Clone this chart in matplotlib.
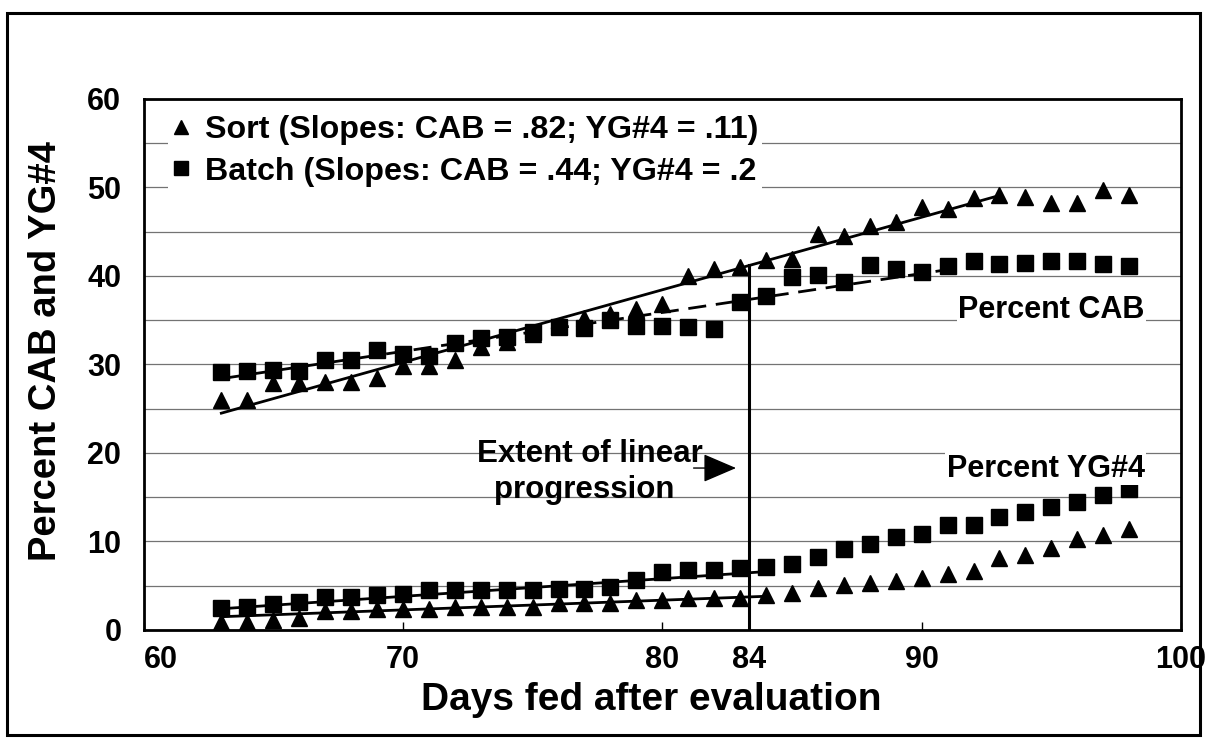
import matplotlib
matplotlib.use("Agg")
import matplotlib.pyplot as plt
from matplotlib.patches import Rectangle
import numpy as np

plt.rcParams["font.family"] = ["Liberation Sans", "DejaVu Sans"]
plt.rcParams["font.weight"] = "bold"

# Days fed after evaluation
days = [63, 64, 65, 66, 67, 68, 69, 70, 71, 72, 73, 74, 75, 76, 77, 78, 79, 80,
        81, 82, 83, 84, 85, 86, 87, 88, 89, 90, 91, 92, 93, 94, 95, 96, 97, 98]

# Percent CAB
sort_cab = [26.0, 26.0, 27.9, 27.9, 28.0, 28.0, 28.5, 29.8, 29.8, 30.5, 32.0, 32.5,
            33.5, 34.3, 35.3, 35.7, 36.3, 36.8, 40.0, 40.8, 41.0, 41.8, 41.9, 44.7,
            44.5, 45.7, 46.1, 47.8, 47.6, 48.8, 49.1, 48.9, 48.3, 48.3, 49.7, 49.2]
batch_cab = [29.1, 29.3, 29.4, 29.3, 30.5, 30.5, 31.6, 31.2, 31.0, 32.4, 33.0, 33.1,
             33.7, 34.2, 34.1, 35.0, 34.3, 34.3, 34.2, 34.0, 37.1, 37.7, 39.9, 40.1,
             39.3, 41.2, 40.8, 40.4, 41.1, 41.7, 41.3, 41.5, 41.7, 41.7, 41.4, 41.1]

# Percent YG#4
sort_yg = [0.9, 0.9, 1.1, 1.4, 2.2, 2.2, 2.4, 2.4, 2.4, 2.6, 2.6, 2.6,
           2.6, 3.0, 3.0, 3.0, 3.4, 3.4, 3.6, 3.6, 3.6, 4.0, 4.2, 4.8,
           5.1, 5.3, 5.5, 5.9, 6.3, 6.7, 8.1, 8.5, 9.3, 10.3, 10.7, 11.4]
batch_yg = [2.45, 2.6, 2.9, 3.2, 3.7, 3.7, 3.95, 4.05, 4.5, 4.5, 4.5, 4.5,
            4.5, 4.6, 4.6, 4.9, 5.6, 6.6, 6.8, 6.8, 7.0, 7.1, 7.45, 8.2,
            9.2, 9.7, 10.5, 10.9, 11.85, 11.85, 12.8, 13.35, 13.9, 14.5, 15.2, 15.9]

# Fitted lines: (start day, end day, value at start, slope)
fit_sort_cab = (63, 93, 24.5, 0.82)
fit_batch_cab = (63, 91, 28.4, 0.44)
fit_sort_yg = (63, 84, 1.5, 0.11)
fit_batch_yg = (63, 84, 2.4, 0.20)

linear_extent = 83.35  # where the vertical marker line sits
x_ticks = [60, 70, 80, linear_extent, 90, 100]
x_tick_labels = ["60", "70", "80", "84", "90", "100"]
y_ticks = [0, 10, 20, 30, 40, 50, 60]


def fit_line(fit):
    x0, x1, y0, slope = fit
    xs = np.array([x0, x1])
    return xs, y0 + slope * (xs - x0)


fig = plt.figure(figsize=(12.08, 7.41), dpi=100)
ax = fig.add_axes([0.1188, 0.1498, 0.8589, 0.7166])

# outer frame around the whole chart
fig.patches.append(Rectangle((7 / 1208, 1 - 735 / 741), 1193 / 1208, 722 / 741,
                             transform=fig.transFigure, fill=False,
                             edgecolor="black", linewidth=2.2))

ax.set_xlim(60, 100)
ax.set_ylim(0, 60)
ax.set_yticks(y_ticks)
ax.set_yticks(np.arange(5, 60, 10), minor=True)
ax.set_xticks(x_ticks)
ax.set_xticklabels(x_tick_labels)
ax.get_xticklabels()[0].set_horizontalalignment("left")

ax.grid(axis="y", which="both", color="0.45", linewidth=0.9, zorder=0)
ax.set_axisbelow(True)

ax.tick_params(axis="x", direction="in", length=6, width=1, pad=11, labelsize=22)
ax.tick_params(axis="y", which="both", direction="in", length=0, pad=16, labelsize=22)
for label in ax.get_xticklabels() + ax.get_yticklabels():
    label.set_fontweight("bold")
for spine in ax.spines.values():
    spine.set_linewidth(2.0)

ms = 12
ax.plot(days, sort_cab, linestyle="none", marker="^", color="black", markersize=ms,
        label="Sort (Slopes: CAB = .82; YG#4 = .11)", zorder=3)
ax.plot(days, batch_cab, linestyle="none", marker="s", color="black", markersize=ms * 0.95,
        label="Batch (Slopes: CAB = .44; YG#4 = .2", zorder=3)
ax.plot(days, sort_yg, linestyle="none", marker="^", color="black", markersize=ms, zorder=3)
ax.plot(days, batch_yg, linestyle="none", marker="s", color="black", markersize=ms * 0.95,
        zorder=3)

xs, ys = fit_line(fit_sort_cab)
ax.plot(xs, ys, color="black", linewidth=2.0, zorder=4)
xs, ys = fit_line(fit_batch_cab)
ax.plot(xs, ys, color="black", linewidth=2.0, linestyle=(0, (6.5, 3.5)), zorder=4)
xs, ys = fit_line(fit_sort_yg)
ax.plot(xs, ys, color="black", linewidth=2.0, zorder=4)
xs, ys = fit_line(fit_batch_yg)
ax.plot(xs, ys, color="black", linewidth=2.0, zorder=4)

# vertical line marking the extent of linear progression
x0, _, y0, slope = fit_sort_cab
ax.plot([linear_extent, linear_extent], [0, y0 + slope * (linear_extent - x0)],
        color="black", linewidth=2.2, zorder=4)

ax.annotate("", xy=(82.95, 18.3), xytext=(81.1, 18.3),
            arrowprops=dict(arrowstyle="-|>,head_length=2.1,head_width=0.9",
                            color="black", linewidth=1.0), zorder=5)
ax.text(77.2, 19.0, "Extent of linear", ha="center", va="baseline", fontsize=22.5,
        fontweight="bold")
ax.text(77.0, 14.95, "progression", ha="center", va="baseline", fontsize=22.5,
        fontweight="bold")
ax.text(98.6, 35.3, "Percent CAB", ha="right", va="baseline", fontsize=22,
        fontweight="bold", bbox=dict(facecolor="white", edgecolor="none", pad=1))
ax.text(98.6, 17.3, "Percent YG#4", ha="right", va="baseline", fontsize=22,
        fontweight="bold", bbox=dict(facecolor="white", edgecolor="none", pad=1))

leg = ax.legend(loc="upper left", bbox_to_anchor=(0.024, 0.975), frameon=True,
                facecolor="white", edgecolor="none", framealpha=1.0, fancybox=False,
                fontsize=23.2, handlelength=0.6, handletextpad=0.45, borderpad=0.1,
                labelspacing=0.35, markerscale=0.85, borderaxespad=0)
for t in leg.get_texts():
    t.set_fontweight("bold")

ax.set_xlabel("Days fed after evaluation", fontsize=28, fontweight="bold", labelpad=5)
ax.xaxis.label.set_x(0.489)
ax.set_ylabel("Percent CAB and YG#4", fontsize=27.5, fontweight="bold")
ax.yaxis.set_label_coords(-0.077, 0.525)

fig.savefig("out.png", dpi=100)
